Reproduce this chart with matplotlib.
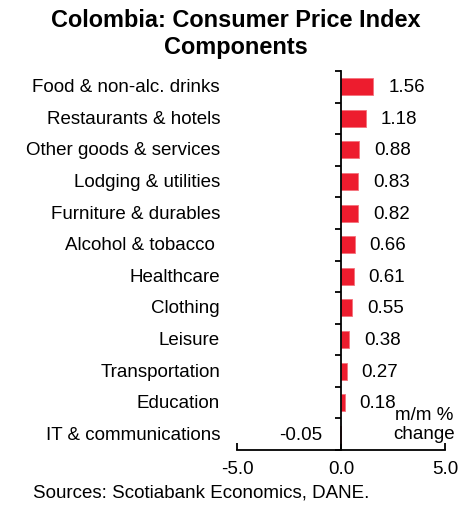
import matplotlib
matplotlib.use("Agg")
import matplotlib.pyplot as plt
import matplotlib.transforms as mtransforms

plt.rcParams['font.family'] = ['Liberation Sans', 'DejaVu Sans']

categories = ["Food & non-alc. drinks", "Restaurants & hotels", "Other goods & services",
              "Lodging & utilities", "Furniture & durables", "Alcohol & tobacco ",
              "Healthcare", "Clothing", "Leisure", "Transportation", "Education",
              "IT & communications"]
values = [1.56, 1.18, 0.88, 0.83, 0.82, 0.66, 0.61, 0.55, 0.38, 0.27, 0.18, -0.05]
value_labels = ["1.56", "1.18", "0.88", "0.83", "0.82", "0.66", "0.61", "0.55",
                "0.38", "0.27", "0.18", "-0.05"]
xticks = [-5.0, 0.0, 5.0]
xtick_labels = ["-5.0", "0.0", "5.0"]

W, H = 473, 506
FS = 13.5
fig = plt.figure(figsize=(W / 100, H / 100), dpi=100)
ax = fig.add_axes([237 / W, 1 - 451 / H, 208 / W, 379 / H])

red = '#ED1C2E'
ypos = list(range(len(categories)))
ax.barh(ypos, values, height=0.54, color=red, edgecolor='#F4727C', linewidth=0.6, zorder=2)

ax.set_xlim(-5, 5)
ax.set_ylim(len(categories) - 0.5, -0.5)

for s in ['top', 'right']:
    ax.spines[s].set_visible(False)
ax.spines['left'].set_position(('data', 0))
ax.spines['left'].set_linewidth(1.3)
ax.spines['bottom'].set_linewidth(1.3)
ax.spines['left'].set_zorder(3)

ax.set_yticks([i - 0.5 for i in range(len(categories) + 1)])
ax.set_yticklabels([])
ax.tick_params(axis='y', direction='out', length=4, width=1.3, color='black')

ax.set_xticks(xticks)
ax.set_xticklabels(xtick_labels, fontsize=FS)
ax.tick_params(axis='x', direction='in', length=5, width=1.3, pad=7)

trans = mtransforms.blended_transform_factory(ax.transAxes, ax.transData)
for i, c in enumerate(categories):
    ax.text(0, i, c, transform=trans + mtransforms.ScaledTranslation(-17 / 100, 0, fig.dpi_scale_trans),
            ha='right', va='center', fontsize=FS)

for i, (v, lab) in enumerate(zip(values, value_labels)):
    if v >= 0:
        off = mtransforms.ScaledTranslation(15 / 100, 0, fig.dpi_scale_trans)
        ax.text(v, i, lab, transform=ax.transData + off, ha='left', va='center', fontsize=FS)
    else:
        off = mtransforms.ScaledTranslation(-18 / 100, 0, fig.dpi_scale_trans)
        ax.text(v, i, lab, transform=ax.transData + off, ha='right', va='center', fontsize=FS)

fig.text(424 / W, 1 - 425 / H, "m/m %\nchange", ha='center', va='center', fontsize=FS,
         linespacing=1.1)

fig.text(236 / W, 1 - 34 / H, "Colombia: Consumer Price Index\nComponents", ha='center',
         va='center', fontsize=16.9, fontweight='bold', linespacing=1.2)

fig.text(33 / W, 1 - 493 / H, "Sources: Scotiabank Economics, DANE.", ha='left', va='center',
         fontsize=FS)

fig.savefig("out.png", dpi=100)
